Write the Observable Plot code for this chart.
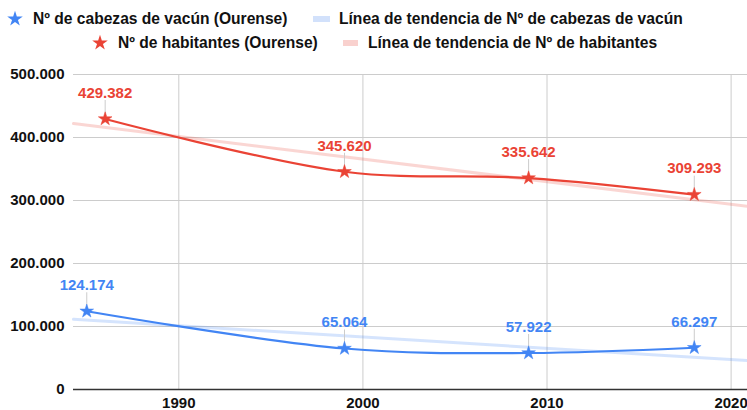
<!DOCTYPE html>
<html>
<head>
<meta charset="utf-8">
<script src="https://cdn.jsdelivr.net/npm/d3@7"></script>
<script src="https://cdn.jsdelivr.net/npm/@observablehq/plot@0.6"></script>
<style>
  html, body { margin: 0; padding: 0; background: #fff; }
  body { width: 747px; height: 410px; overflow: hidden; font-family: "Liberation Sans", Arial, sans-serif; }
  #legend { position: relative; width: 747px; height: 58px; font-weight: bold; font-size: 15.6px; color: #111; }
  #legend .it { position: absolute; white-space: nowrap; line-height: 18px; }
  #legend svg { position: absolute; }
  #legend .sw { position: absolute; height: 6px; }
  #chart svg text { font-family: "Liberation Sans", Arial, sans-serif; }
  #chart g[aria-label="y-axis tick label"] text,
  #chart g[aria-label="x-axis tick label"] text { font-size: 15px; font-weight: bold; fill: #111; }
</style>
</head>
<body>
<div id="legend"></div>
<div id="chart"></div>
<script>
// ---- data ----
const blueName = "Nº de cabezas de vacún (Ourense)";
const blueTrendName = "Línea de tendencia de Nº de cabezas de vacún";
const redName = "Nº de habitantes (Ourense)";
const redTrendName = "Línea de tendencia de Nº de habitantes";

const blueYears = [1985, 1999, 2009, 2018];
const blueValues = [124174, 65064, 57922, 66297];
const redYears = [1986, 1999, 2009, 2018];
const redValues = [429382, 345620, 335642, 309293];

const xDomain = [1984.28, 2020.89];
const xTicks = [1990, 2000, 2010, 2020];
const yTicks = [0, 100000, 200000, 300000, 400000, 500000];

const blueColor = "#4285f4";
const redColor = "#ea4335";

// ---- helpers ----
const fmt = d3.formatLocale({decimal: ",", thousands: ".", grouping: [3], currency: ["", "€"]}).format(",d");

function regression(xs, ys) {
  const mx = d3.mean(xs), my = d3.mean(ys);
  const b = d3.sum(xs, (x, i) => (x - mx) * (ys[i] - my)) / d3.sum(xs, x => (x - mx) ** 2);
  const a = my - b * mx;
  return xDomain.map(x => ({year: x, value: a + b * x}));
}

const blue = blueYears.map((y, i) => ({year: y, value: blueValues[i]}));
const red = redYears.map((y, i) => ({year: y, value: redValues[i]}));
const blueTrend = regression(blueYears, blueValues);
const redTrend = regression(redYears, redValues);

const leader = { draw(ctx) { ctx.moveTo(0, -19); ctx.lineTo(0, -5); } };

// ---- legend ----
const legend = document.getElementById("legend");
const starPath = d3.symbol(d3.symbolStar, 75)();
function addStar(cx, cy, color) {
  const s = document.createElementNS("http://www.w3.org/2000/svg", "svg");
  s.setAttribute("width", 20); s.setAttribute("height", 20);
  s.style.left = (cx - 10) + "px"; s.style.top = (cy - 10) + "px";
  s.innerHTML = `<path d="${starPath}" transform="translate(10,10)" fill="${color}"/>`;
  legend.appendChild(s);
}
function addText(x, cy, t) {
  const d = document.createElement("div");
  d.className = "it"; d.textContent = t;
  d.style.left = x + "px"; d.style.top = (cy - 9) + "px";
  legend.appendChild(d);
}
function addSwatch(x, cy, w, color) {
  const d = document.createElement("div");
  d.className = "sw"; d.style.left = x + "px"; d.style.top = (cy - 3) + "px";
  d.style.width = w + "px"; d.style.background = color;
  legend.appendChild(d);
}
addStar(15, 19, blueColor);
addText(33, 19, blueName);
addSwatch(313, 19, 17, "#d2e1fb");
addText(339, 19, blueTrendName);
addStar(100, 43, redColor);
addText(118, 43, redName);
addSwatch(343, 43, 15, "#f9d1ce");
addText(368, 43, redTrendName);

// ---- chart ----
const labelMarks = (data, color) => [
  Plot.dot(data, {x: "year", y: "value", symbol: leader, stroke: "#cccccc", strokeWidth: 1, r: 5}),
  Plot.dot(data, {x: "year", y: "value", symbol: "star", fill: color, stroke: color, strokeWidth: 0.5, r: 4.3}),
  Plot.text(data, {x: "year", y: "value", text: d => fmt(d.value), dy: -26, fill: color,
    fontWeight: "bold", fontSize: 15})
];

const chart = Plot.plot({
  width: 747,
  height: 352,
  marginTop: 16,
  marginBottom: 21,
  marginLeft: 73,
  marginRight: 0,
  x: {domain: xDomain, label: null},
  y: {domain: [0, 500000], label: null},
  marks: [
    Plot.gridX(xTicks, {stroke: "#cccccc", strokeOpacity: 1}),
    Plot.gridY(yTicks, {stroke: "#cccccc", strokeOpacity: 1}),
    Plot.ruleY([0], {stroke: "#333", strokeWidth: 1.5}),
    Plot.line(redTrend, {x: "year", y: "value", stroke: redColor, strokeOpacity: 0.22, strokeWidth: 3}),
    Plot.line(blueTrend, {x: "year", y: "value", stroke: blueColor, strokeOpacity: 0.22, strokeWidth: 3}),
    Plot.line(red, {x: "year", y: "value", stroke: redColor, strokeWidth: 2.2, curve: "catmull-rom"}),
    Plot.line(blue, {x: "year", y: "value", stroke: blueColor, strokeWidth: 2.2, curve: "catmull-rom"}),
    ...labelMarks(red, redColor),
    ...labelMarks(blue, blueColor),
    Plot.axisY(yTicks, {tickFormat: fmt, tickSize: 0, tickPadding: 9}),
    Plot.axisX(xTicks, {tickFormat: d => String(d), tickSize: 0, tickPadding: 8})
  ]
});
document.getElementById("chart").appendChild(chart);
</script>
</body>
</html>
